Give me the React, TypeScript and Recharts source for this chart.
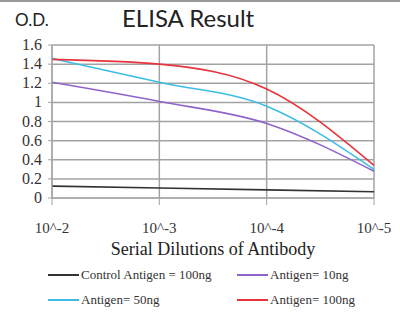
import React from 'react';
import { LineChart, Line, XAxis, YAxis, CartesianGrid } from 'recharts';

const dilutions = ['10^-2', '10^-3', '10^-4', '10^-5'];
const control100 = [0.125, 0.105, 0.085, 0.065];
const antigen10 = [1.21, 1.01, 0.78, 0.28];
const antigen50 = [1.46, 1.21, 0.96, 0.3];
const antigen100 = [1.45, 1.4, 1.14, 0.34];
const yTicks = [0, 0.2, 0.4, 0.6, 0.8, 1, 1.2, 1.4, 1.6];

const seriesInfo = [
    { key: 'control', name: 'Control Antigen = 100ng', color: '#333333' },
    { key: 'a10', name: 'Antigen= 10ng', color: '#8f63c9' },
    { key: 'a50', name: 'Antigen= 50ng', color: '#3dbde6' },
    { key: 'a100', name: 'Antigen= 100ng', color: '#e8343c' },
];

const data = dilutions.map((d, i) => ({
    name: d,
    control: control100[i],
    a10: antigen10[i],
    a50: antigen50[i],
    a100: antigen100[i],
}));

const serif = '"Liberation Serif", "Times New Roman", serif';
const gridColor = '#a3a3a3';

const renderXTick = (props: any) => {
    const { x, y, payload } = props;
    return (
        <text x={x} y={y + 24} textAnchor="middle" fontFamily="Liberation Serif" fontSize={15} fill="#333">
            {payload.value}
        </text>
    );
};

const renderYTick = (props: any) => {
    const { x, y, payload } = props;
    return (
        <text x={x - 1} y={y + 5} textAnchor="end" fontFamily="Liberation Serif" fontSize={16} fill="#333">
            {String(payload.value)}
        </text>
    );
};

const LegendBox = () => (
    <div style={{ position: 'absolute', left: 0, top: 267, width: 400, height: 60, fontFamily: serif, fontSize: 13, color: '#333' }}>
        {seriesInfo.map((s, i) => {
            const col = i % 2;
            const row = Math.floor(i / 2);
            const left = col === 0 ? 48 : 237;
            const top = row * 25;
            return (
                <div key={s.key} style={{ position: 'absolute', left, top, display: 'flex', alignItems: 'center', whiteSpace: 'nowrap' }}>
                    <div style={{ width: 31, height: 2, background: s.color, marginRight: 2 }} />
                    <span>{s.name}</span>
                </div>
            );
        })}
    </div>
);

const App: React.FC = () => {
    return (
        <div style={{ position: 'absolute', left: 0, top: 0, width: 400, height: 333, background: '#fff', fontFamily: serif }}>
            <div style={{ position: 'absolute', left: 0, top: 0, width: 400, height: 2, background: '#999' }} />
            <div style={{ position: 'absolute', left: 15, top: 9, fontFamily: 'Lato, sans-serif', fontSize: 17, color: '#222' }}>O.D.</div>
            <div style={{ position: 'absolute', left: 122, top: 3, fontFamily: 'Lato, sans-serif', fontSize: 24, color: '#222' }}>ELISA Result</div>
            <div style={{ position: 'absolute', left: 0, top: 239, width: 426, textAlign: 'center', fontFamily: serif, fontSize: 18, color: '#222' }}>
                Serial Dilutions of Antibody
            </div>
            <div style={{ position: 'absolute', left: 0, top: 0 }}>
                <LineChart width={400} height={333} data={data} margin={{ top: 45, right: 26, bottom: 0, left: 0 }}>
                    <CartesianGrid stroke={gridColor} strokeWidth={1.5} />
                    <XAxis
                        dataKey="name"
                        axisLine={{ stroke: gridColor }}
                        tickLine={{ stroke: gridColor }}
                        tickSize={7}
                        height={135}
                        tick={renderXTick}
                        interval={0}
                        tickMargin={4}
                    />
                    <YAxis
                        domain={[0, 1.6]}
                        ticks={yTicks}
                        interval={0}
                        width={52}
                        axisLine={{ stroke: gridColor }}
                        tickLine={{ stroke: gridColor }}
                        tickSize={4}
                        tickMargin={5}
                        tick={renderYTick}
                    />
                    {seriesInfo.map((s) => (
                        <Line
                            key={s.key}
                            type="monotone"
                            dataKey={s.key}
                            name={s.name}
                            stroke={s.color}
                            strokeWidth={1.6}
                            dot={false}
                            isAnimationActive={false}
                        />
                    ))}
                </LineChart>
            </div>
            <LegendBox />
        </div>
    );
};

export default App;
